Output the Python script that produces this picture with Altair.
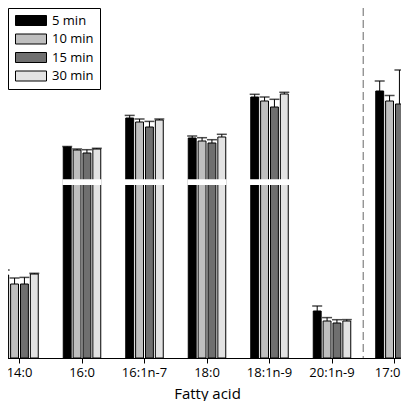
import altair as alt
import pandas as pd

# ---- data (display units; y axis is not shown) ----
acids = ["14:0", "16:0", "16:1n-7", "18:0", "18:1n-9", "20:1n-9", "17:0"]
times = ["5 min", "10 min", "15 min", "30 min"]
colors = ["#000000", "#bfbfbf", "#6f6f6f", "#e3e3e3"]

v_5 = [83, 211, 240, 220, 261, 47, 267]
v_10 = [74, 208, 236, 217, 257, 37, 257]
v_15 = [74, 205, 231, 215, 251, 35, 254]
v_30 = [84, 209, 238, 221, 264, 37, 278]

e_5 = [5, 0.5, 2.6, 2, 2.7, 5, 10]
e_10 = [6, 1, 3, 3.3, 4, 3.4, 5.5]
e_15 = [6.6, 3.3, 5.6, 3.3, 7.7, 3.3, 34]
e_30 = [0.7, 0.7, 1, 2.7, 1.7, 1.4, 4]

broken = ["16:0", "16:1n-7", "18:0", "18:1n-9"]
break_lo, break_hi = 173.7, 178.0
standard = ["17:0"]

rows = []
for t, vals, errs in zip(times, [v_5, v_10, v_15, v_30], [e_5, e_10, e_15, e_30]):
    for a, v, e in zip(acids, vals, errs):
        rows.append({"acid": a, "time": t, "value": v, "top": v + e})
df = pd.DataFrame(rows)
df_break = pd.DataFrame({"acid": broken, "lo": [break_lo] * len(broken), "hi": [break_hi] * len(broken)})
df_std = pd.DataFrame({"acid": standard})

# ---- layout ----
W, H = 393, 350
step = 62.5
r0 = 11.5 - step / 2
FONT = "Open Sans"
last_test = "datum.value == '17:0'"

xscale = alt.Scale(domain=acids, range=[r0, r0 + step * len(acids)], paddingInner=0.4, paddingOuter=0.2)
X = alt.X("acid:N", sort=acids, scale=xscale,
          axis=alt.Axis(title="Fatty acid", labelAngle=0, domainColor="black", tickColor="black",
                        tickSize=5, labelPadding=3, labelFont=FONT, labelFontSize=13, labelColor="black",
                        labelAlign={"condition": {"test": last_test, "value": "right"}, "value": "center"},
                        labelOffset={"condition": {"test": last_test, "value": 6}, "value": 0},
                        titleFont=FONT, titleFontSize=15, titleFontWeight="normal", titleColor="black",
                        titlePadding=7, grid=False))
XO = alt.XOffset("time:N", sort=times, scale=alt.Scale(paddingInner=0.2, paddingOuter=0))
yscale = alt.Scale(domain=[0, H], nice=False, zero=True)

bars = alt.Chart(df).mark_bar(stroke="black", strokeWidth=1).encode(
    x=X, xOffset=XO,
    y=alt.Y("value:Q", scale=yscale, axis=None),
    color=alt.Color("time:N", sort=times, scale=alt.Scale(domain=times, range=colors),
                    legend=alt.Legend(title=None, orient="none", legendX=0, legendY=0,
                                      strokeColor="black", fillColor="white", padding=6,
                                      symbolType="M-1,-1H5.2V1H-1Z", symbolSize=100,
                                      symbolStrokeColor="black", symbolStrokeWidth=1,
                                      symbolOpacity=1, labelFont=FONT, labelFontSize=13,
                                      labelColor="black", labelOffset=25, rowPadding=3.5,
                                      labelExpr="datum.label + '      '")),
)

brk = alt.Chart(df_break).mark_rect(color="white", stroke="white", strokeWidth=1.5).encode(
    x=X, y=alt.Y("lo:Q", scale=yscale), y2="hi:Q")

err = alt.Chart(df).mark_rule(color="black", strokeWidth=1).encode(
    x=X, xOffset=XO, y=alt.Y("value:Q", scale=yscale), y2="top:Q")

cap = alt.Chart(df).mark_tick(color="black", thickness=1.5, size=10, orient="horizontal").encode(
    x=X, xOffset=XO, y=alt.Y("top:Q", scale=yscale))

sep = alt.Chart(df_std).mark_rule(color="#8a8a8a", strokeWidth=1.3, strokeDash=[8, 4],
                                   xOffset=-step / 2).encode(x=X)

chart = alt.layer(bars, brk, err, cap, sep).properties(
    width=W, height=H,
    autosize=alt.AutoSizeParams(type="none"),
    padding={"left": 0, "top": 0, "right": 0, "bottom": 43},
).configure_view(stroke=None)

chart.save("out.html", embed_options={"renderer": "svg", "actions": False})
